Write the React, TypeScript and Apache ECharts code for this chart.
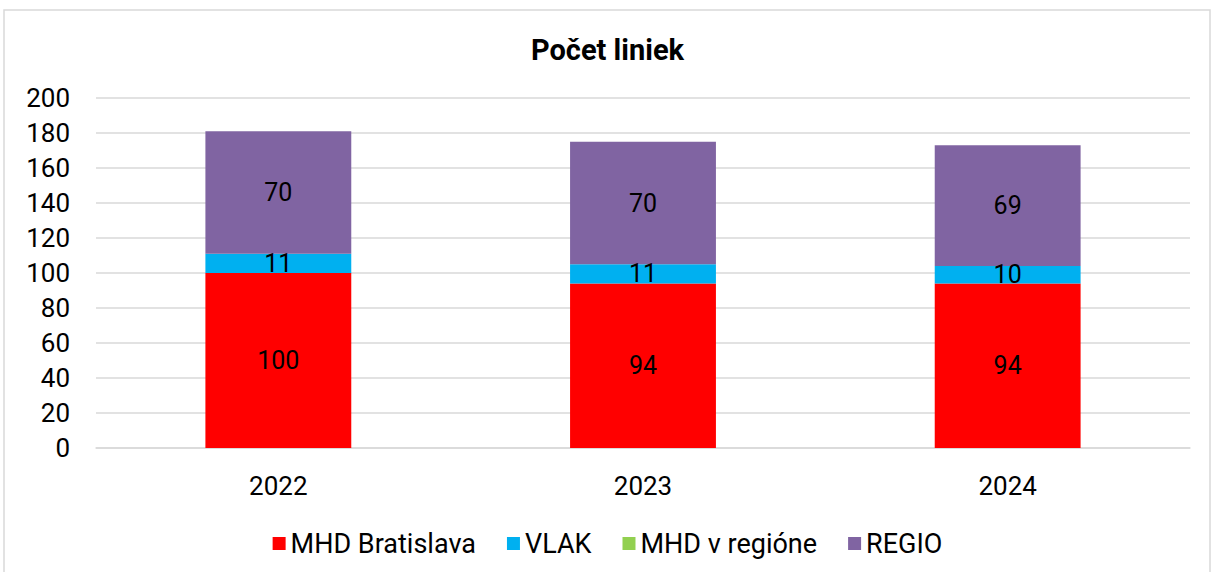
import React, { useEffect, useRef } from "react";
import * as echarts from "echarts";

const categories = ["2022", "2023", "2024"];
const mhdBratislava = [100, 94, 94];
const vlak = [11, 11, 10];
const mhdRegion = [0, 0, 0];
const regio = [70, 70, 69];

const FONT = "Roboto, 'Noto Sans', sans-serif";

export default function App() {
  const ref = useRef<HTMLDivElement>(null);
  useEffect(() => {
    if (!ref.current) return;
    const chart = echarts.init(ref.current, null, { renderer: "svg" });
    const label = {
      show: true,
      position: "inside",
      color: "#000",
      fontSize: 25,
      fontFamily: FONT,
      formatter: (p: any) => (p.value ? String(p.value) : ""),
    };
    const mk = (name: string, data: number[], color: string) => ({
      name,
      type: "bar",
      stack: "total",
      data,
      barWidth: "40%",
      itemStyle: { color },
      label,
    });
    chart.setOption({
      animation: false,
      textStyle: { fontFamily: FONT },
      title: {
        text: "Počet liniek",
        left: "center",
        top: 30,
        textStyle: { fontSize: 29, fontWeight: "bold", color: "#000", fontFamily: FONT },
      },
      graphic: [
        {
          type: "rect",
          shape: { x: 4, y: 10, width: 1206, height: 600 },
          style: { fill: "none", stroke: "#d9d9d9", lineWidth: 1.5 },
          silent: true,
        },
      ],
      legend: {
        left: "center",
        top: 525,
        icon: "rect",
        itemWidth: 13,
        itemHeight: 13,
        itemGap: 31,
        textStyle: { fontSize: 27, color: "#000", fontFamily: FONT },
        data: ["MHD Bratislava", "VLAK", "MHD v regióne", "REGIO"],
      },
      grid: { left: 96, right: 25, top: 98, bottom: 124, containLabel: false },
      xAxis: {
        type: "category",
        data: categories,
        axisLine: { lineStyle: { color: "#d9d9d9", width: 1.5 } },
        axisTick: { show: false },
        axisLabel: { fontSize: 26, color: "#000", margin: 25, fontFamily: FONT },
      },
      yAxis: {
        type: "value",
        min: 0,
        max: 200,
        interval: 20,
        axisLine: { show: false },
        axisTick: { show: false },
        splitLine: { lineStyle: { color: "#d9d9d9", width: 1.5 } },
        axisLabel: { fontSize: 26, color: "#000", margin: 26, fontFamily: FONT },
      },
      series: [
        mk("MHD Bratislava", mhdBratislava, "#FF0000"),
        mk("VLAK", vlak, "#00B0F0"),
        mk("MHD v regióne", mhdRegion, "#92D050"),
        mk("REGIO", regio, "#8064A2"),
      ],
    });
    return () => chart.dispose();
  }, []);
  return (
    <div
      ref={ref}
      style={{ position: "fixed", left: 0, top: 0, width: 1215, height: 572, background: "#fff" }}
    />
  );
}
